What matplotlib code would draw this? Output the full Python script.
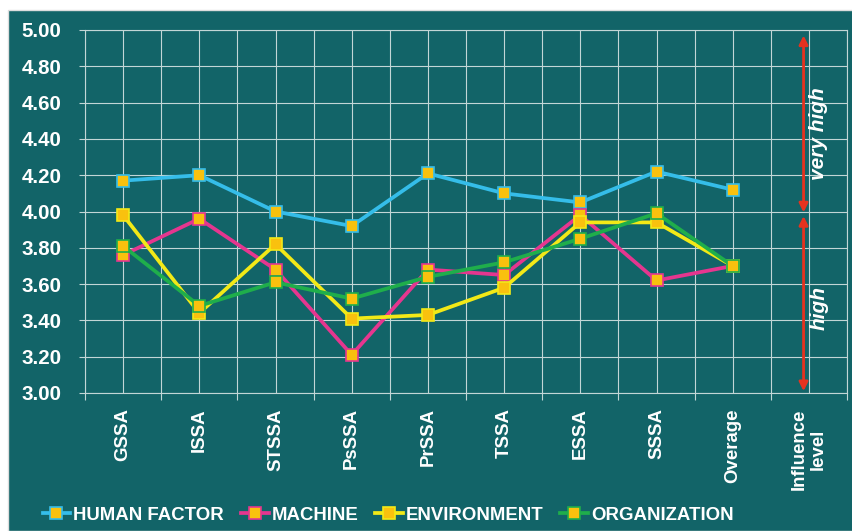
import numpy as np
import matplotlib
matplotlib.use("Agg")
import matplotlib.pyplot as plt
from matplotlib.patches import Rectangle
from matplotlib.ticker import FixedLocator

plt.rcParams['font.family'] = ['Liberation Sans', 'DejaVu Sans']

# categories (last one is the influence-level column, no data)
categories = ["GSSA", "ISSA", "STSSA", "PsSSA", "PrSSA", "TSSA", "ESSA",
              "SSSA", "Overage", "Influence\nlevel"]

human_factor = [4.17, 4.20, 4.00, 3.92, 4.21, 4.10, 4.05, 4.22, 4.12]
machine = [3.76, 3.96, 3.68, 3.21, 3.68, 3.65, 3.98, 3.62, 3.70]
environment = [3.98, 3.44, 3.82, 3.41, 3.43, 3.58, 3.94, 3.94, 3.70]
organization = [3.81, 3.48, 3.61, 3.52, 3.64, 3.72, 3.85, 3.99, 3.70]

series_names = ["HUMAN FACTOR", "MACHINE", "ENVIRONMENT", "ORGANIZATION"]
series_colors = ["#35BDE9", "#E5368F", "#F2E917", "#1FAE4B"]

bg = "#126468"
grid_c = "#C2D6D6"
marker_fill = "#F9C10E"

fig = plt.figure(figsize=(8.52, 5.31), dpi=100, facecolor="white")
# teal panel with white margin at top/left
fig.add_artist(Rectangle((8 / 852, 0), 1, 1 - 10 / 531, transform=fig.transFigure,
                         facecolor=bg, edgecolor="#DDDDDD", lw=1, zorder=0))

ax = fig.add_axes([85 / 852, 138 / 531, 762 / 852, 363 / 531])
ax.set_facecolor(bg)

x = np.arange(len(human_factor))
all_series = [human_factor, machine, environment, organization]
for vals, name, col in zip(all_series, series_names, series_colors):
    ax.plot(x, vals, color=col, lw=2.7, marker="s", markersize=8,
            markerfacecolor=marker_fill, markeredgecolor=col, markeredgewidth=1.2,
            label=name, zorder=3)

ax.set_xlim(-0.5, len(categories) - 0.5)
ax.set_ylim(3.0, 5.0)
ax.set_yticks(np.arange(3.0, 5.01, 0.2))
ax.set_yticklabels(["%.2f" % v for v in np.arange(3.0, 5.01, 0.2)])
ax.set_xticks(np.arange(len(categories)))
ax.set_xticklabels(categories, rotation=90, va="top", ha="center", multialignment="center")
ax.xaxis.set_minor_locator(FixedLocator(np.arange(-0.5, len(categories), 1.0)))

ax.grid(True, which="both", axis="x", color=grid_c, lw=0.8)
ax.grid(True, which="major", axis="y", color=grid_c, lw=0.8)
ax.set_axisbelow(True)
for s in ax.spines.values():
    s.set_color(grid_c)
    s.set_linewidth(0.8)

ax.tick_params(axis="y", colors=grid_c, length=4, width=0.8, pad=13,
               labelcolor="white", labelsize=14.8)
ax.tick_params(axis="x", which="major", length=0, pad=11,
               labelcolor="white", labelsize=13.4)
ax.tick_params(axis="x", which="minor", colors=grid_c, length=5, width=0.8)
for lab in ax.get_xticklabels() + ax.get_yticklabels():
    lab.set_fontweight("bold")

# influence level arrows
red = "#E5321F"
ax.annotate("", xy=(8.93, 3.995), xytext=(8.93, 4.97),
            arrowprops=dict(arrowstyle="<|-|>", color=red, lw=2, mutation_scale=13,
                            shrinkA=0, shrinkB=0))
ax.annotate("", xy=(8.93, 3.01), xytext=(8.93, 3.975),
            arrowprops=dict(arrowstyle="<|-|>", color=red, lw=2, mutation_scale=13,
                            shrinkA=0, shrinkB=0))
ax.text(9.13, 4.43, "very high", rotation=90, color="white", fontsize=15,
        fontweight="bold", fontstyle="italic", ha="center", va="center")
ax.text(9.13, 3.47, "high", rotation=90, color="white", fontsize=15,
        fontweight="bold", fontstyle="italic", ha="center", va="center")

leg = fig.legend(loc="center", bbox_to_anchor=(388 / 852, 16 / 531), ncol=4,
                 frameon=False, handlelength=1.5, handletextpad=0.15,
                 columnspacing=0.9, prop={"size": 13.4, "weight": "bold"})
for t in leg.get_texts():
    t.set_color("white")

fig.savefig("out.png", dpi=100, facecolor="white")
